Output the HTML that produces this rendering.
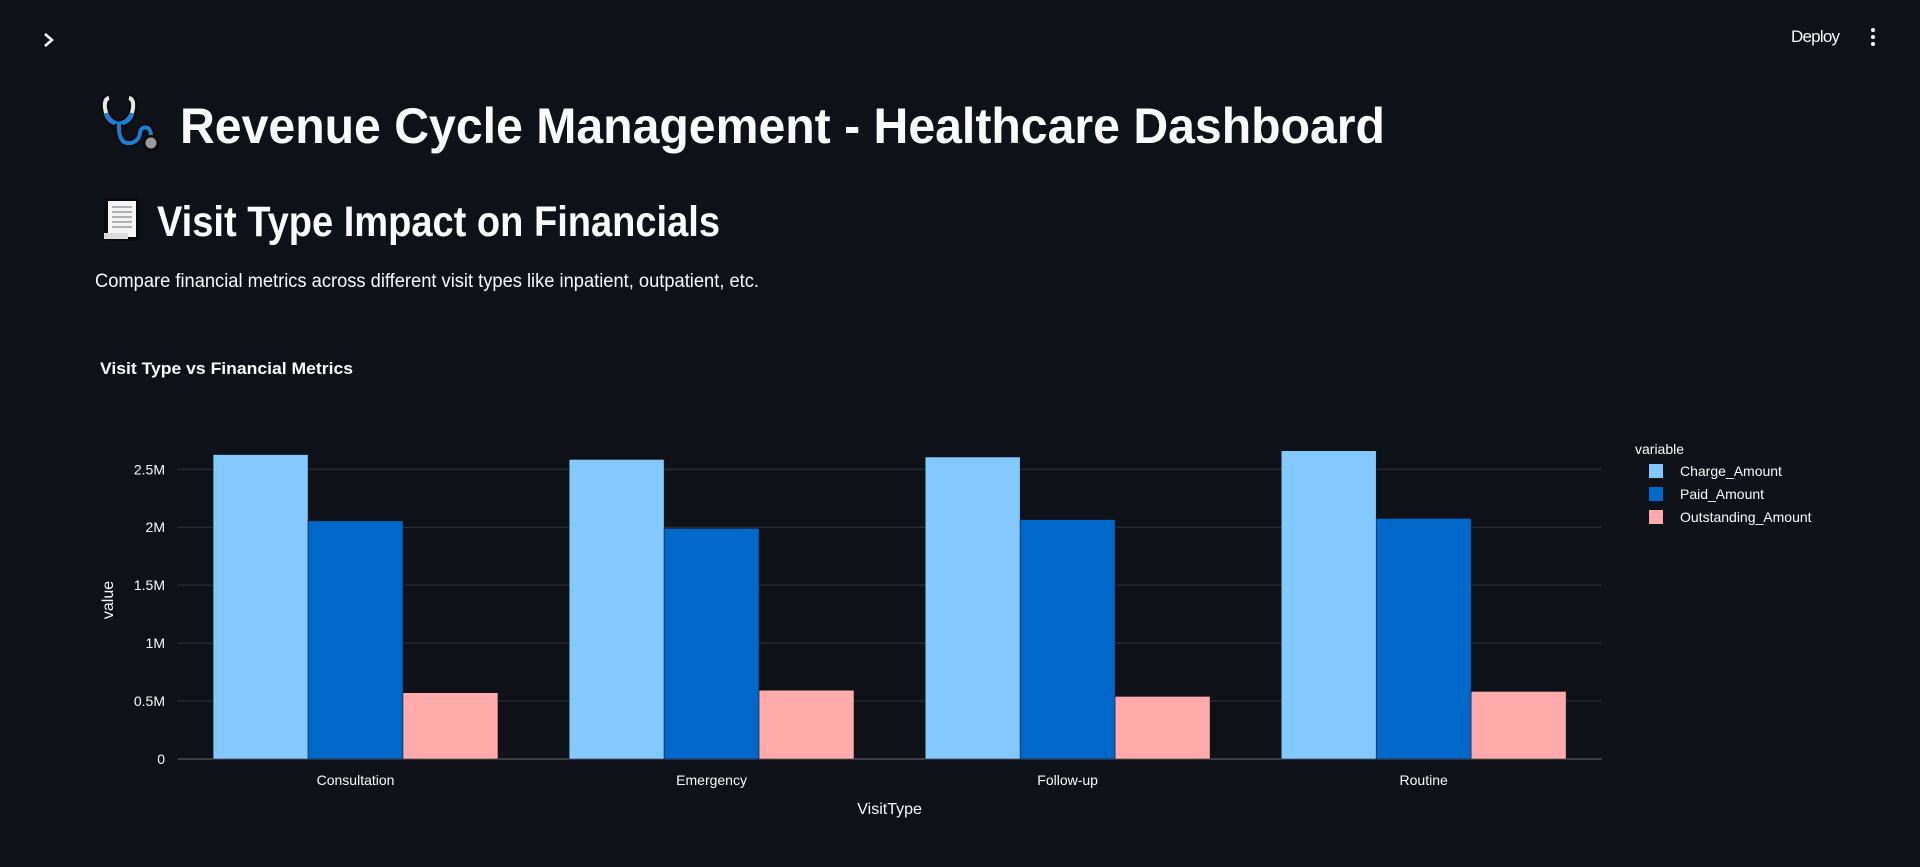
<!DOCTYPE html>
<html><head><meta charset="utf-8"><style>
html,body{margin:0;padding:0;background:#0e1117;width:1920px;height:867px;overflow:hidden}
svg{display:block}
text{font-family:"Liberation Sans",sans-serif;fill:#fafafa}
</style></head><body>
<svg id="root" width="1920" height="867" viewBox="0 0 1920 867">
  <path d="M45 34 L52 40 L45 46" stroke="#fafafa" stroke-width="2.5" fill="none"/>
  <text x="1791" y="42" font-size="17" textLength="49">Deploy</text>
  <g fill="#fafafa">
    <circle cx="1873" cy="30" r="2"/><circle cx="1873" cy="37" r="2"/><circle cx="1873" cy="44" r="2"/>
  </g>
  <g>
    <path d="M109 98 Q104 99 105 108 Q107 122 119 124 Q131 122 133 108 Q134 99 129 98" stroke="#0a0a0a" stroke-width="9" fill="none"/>
    <path d="M109 98 Q104 99 105 108 Q107 122 119 124 Q131 122 133 108 Q134 99 129 98" stroke="#e8e8e8" stroke-width="4" fill="none"/>
    <path d="M106 113 Q108 122 119 124 Q130 122 132 113" stroke="#1a7fd6" stroke-width="4.5" fill="none"/>
    <path d="M119 124 Q118 145 131 143 Q139 141 140 133 Q141 126 148 128 Q152 131 151 142" stroke="#0a0a0a" stroke-width="8" fill="none"/>
    <path d="M119 124 Q118 145 131 143 Q139 141 140 133 Q141 126 148 128 Q152 131 151 142" stroke="#1a7fd6" stroke-width="4" fill="none"/>
    <circle cx="151" cy="143" r="8" fill="#0a0a0a"/><circle cx="151" cy="143" r="5.5" fill="#9a9a9a"/>
  </g>
  <text x="180" y="143" font-size="50" font-weight="bold" textLength="1205" lengthAdjust="spacingAndGlyphs">Revenue Cycle Management - Healthcare Dashboard</text>
  <g>
    <rect x="104" y="198" width="35" height="43" rx="3" fill="#0a0a0a"/>
    <rect x="108" y="201" width="28" height="36" fill="#f4f4f4"/>
    <rect x="104" y="233" width="24" height="6" fill="#dcdcdc"/>
    <g stroke="#9a9a9a" stroke-width="1.5">
      <line x1="112" y1="207" x2="132" y2="207"/><line x1="112" y1="212" x2="132" y2="212"/><line x1="112" y1="217" x2="132" y2="217"/>
      <line x1="112" y1="222" x2="132" y2="222"/><line x1="112" y1="227" x2="132" y2="227"/>
    </g>
  </g>
  <text x="157" y="236" font-size="43" font-weight="bold" textLength="563" lengthAdjust="spacingAndGlyphs">Visit Type Impact on Financials</text>
  <text x="95" y="287" font-size="19" textLength="664" lengthAdjust="spacingAndGlyphs">Compare financial metrics across different visit types like inpatient, outpatient, etc.</text>
  <text x="100" y="374" font-size="17" font-weight="bold" textLength="253" lengthAdjust="spacingAndGlyphs">Visit Type vs Financial Metrics</text>
  <g id="chart"></g>
</svg>
<script>
const categories = ["Consultation","Emergency","Follow-up","Routine"];
const seriesNames = ["Charge_Amount","Paid_Amount","Outstanding_Amount"];
const chargeValues = [2.627e6, 2.585e6, 2.606e6, 2.66e6];
const paidValues = [2.055e6, 1.99e6, 2.066e6, 2.076e6];
const outstandingValues = [0.572e6, 0.593e6, 0.54e6, 0.583e6];
const yTicks = [0, 0.5e6, 1e6, 1.5e6, 2e6, 2.5e6];
const yTickLabels = ["0","0.5M","1M","1.5M","2M","2.5M"];

const colors = ["#83c9ff","#0068c9","#ffabab"];
const series = [chargeValues, paidValues, outstandingValues];
const L = 177.5, R = 1601.7, Y0 = 759, YTOP = 469.3, VTOP = 2.5e6;
const y = v => Y0 - (v / VTOP) * (Y0 - YTOP);
const band = (R - L) / categories.length;
const xc = i => L + band * (i + 0.5);
const ns = "http://www.w3.org/2000/svg";
const g = document.getElementById("chart");
function mk(tag, attrs, parent) {
  const e = document.createElementNS(ns, tag);
  for (const k in attrs) e.setAttribute(k, attrs[k]);
  (parent || g).appendChild(e);
  return e;
}
yTicks.forEach((t, i) => {
  const ln = mk("line", {x1: L, x2: R, y1: y(t), y2: y(t), stroke: i === 0 ? "#3a3c46" : "#31333f", "stroke-width": i === 0 ? 2 : 1});
  
  
  const tx = mk("text", {x: 165, y: y(t) + 5, "font-size": 14, "text-anchor": "end", fill: "#d0d0d5"});
  tx.textContent = yTickLabels[i];
  
  
});
const bw = band * 0.8 / 3;
categories.forEach((c, i) => {
  series.forEach((s, j) => {
    const x0 = xc(i) - band * 0.4 + j * bw;
    const r = mk("rect", {x: x0, y: y(s[i]), width: bw, height: Y0 - y(s[i]), fill: colors[j], stroke: "#0e1117", "stroke-width": 0.5});
    
    
  });
  const tx = mk("text", {x: xc(i), y: 785, "font-size": 14, "text-anchor": "middle", fill: "#d0d0d5"});
  tx.textContent = c;
  
  
});
const xt = mk("text", {x: (L + R) / 2, y: 814, "font-size": 16, "text-anchor": "middle", fill: "#d0d0d5"});
xt.textContent = "VisitType";


const yt = mk("text", {x: 0, y: 0, "font-size": 16, "text-anchor": "middle", fill: "#d0d0d5", transform: "translate(113,600) rotate(-90)"});
yt.textContent = "value";


const lt = mk("text", {x: 1635, y: 454, "font-size": 14, fill: "#d0d0d5"});
lt.textContent = "variable";


seriesNames.forEach((n, j) => {
  const ly = 471 + j * 23;
  const sw = mk("rect", {x: 1649, y: ly - 7, width: 14, height: 14, fill: colors[j]});
  
  
  const lx = mk("text", {x: 1680, y: ly + 5, "font-size": 14, fill: "#e0e0e5"});
  lx.textContent = n;
  
  
});
</script>
</body></html>
